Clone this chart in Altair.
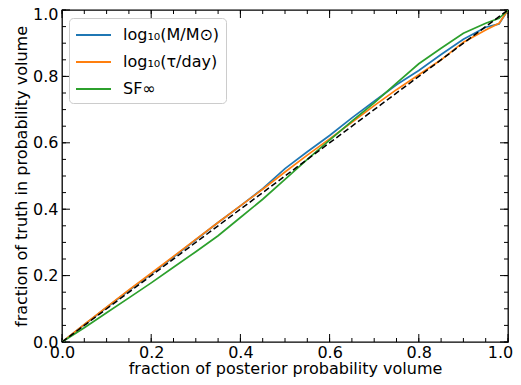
import altair as alt
import pandas as pd

# ---- data ----
series_names = ["log₁₀(M/M⊙)", "log₁₀(τ/day)", "SF∞"]
series_colors = ["#1f77b4", "#ff7f0e", "#2ca02c"]

x_grid = [0.0, 0.05, 0.1, 0.15, 0.2, 0.25, 0.3, 0.35, 0.4, 0.45, 0.5,
          0.55, 0.6, 0.65, 0.7, 0.75, 0.8, 0.85, 0.9, 0.95, 0.98, 1.0]
y_mass = [0.0, 0.052, 0.104, 0.155, 0.205, 0.256, 0.308, 0.36, 0.41, 0.462, 0.522,
          0.573, 0.622, 0.675, 0.725, 0.775, 0.818, 0.866, 0.912, 0.948, 0.958, 1.0]
y_tau = [0.0, 0.053, 0.105, 0.157, 0.207, 0.258, 0.309, 0.36, 0.41, 0.46, 0.512,
         0.563, 0.612, 0.662, 0.712, 0.76, 0.805, 0.85, 0.903, 0.94, 0.96, 1.0]
y_sf = [0.0, 0.043, 0.088, 0.133, 0.178, 0.225, 0.272, 0.32, 0.375, 0.43, 0.49,
        0.55, 0.608, 0.665, 0.72, 0.78, 0.838, 0.885, 0.93, 0.96, 0.975, 1.0]

diag_x = [0.0, 1.0]
diag_y = [0.0, 1.0]

major_ticks = [0.0, 0.2, 0.4, 0.6, 0.8, 1.0]
minor_ticks = [round(0.05 * i, 2) for i in range(21)]

W, H = 446, 332
MAJ, MIN = 8, 4
FONT = "DejaVu Sans"
FS = 16

rows = []
for name, ys in zip(series_names, [y_mass, y_tau, y_sf]):
    for xv, yv in zip(x_grid, ys):
        rows.append({"x": xv, "y": yv, "series": name})
df = pd.DataFrame(rows)
diag = pd.DataFrame({"x": diag_x, "y": diag_y})

xs = alt.Scale(domain=[0, 1], nice=False, zero=False)
ys_ = alt.Scale(domain=[0, 1], nice=False, zero=False)
common = dict(values=major_ticks, format=".1f", ticks=False, domain=False, grid=False,
              labelFontSize=FS, titleFontSize=FS, labelFont=FONT, titleFont=FONT,
              labelColor="black", titleColor="black", titleFontWeight="normal",
              labelFlush=False, labelOverlap=False)
xaxis = alt.Axis(labelPadding=2, titlePadding=0,
                 labelOffset={"condition": {"test": "datum.value == 1", "value": -8},
                              "value": 0},
                 **common)
yaxis = alt.Axis(labelPadding=4, titlePadding=3,
                 labelOffset={"condition": {"test": "datum.value == 1", "value": 4},
                              "value": 0},
                 **common)
XT = "fraction of posterior probability volume"
YT = "fraction of truth in probability volume"


def X(f):
    return alt.X(f"{f}:Q", scale=xs, axis=xaxis, title=XT)


def Y(f):
    return alt.Y(f"{f}:Q", scale=ys_, axis=yaxis, title=YT)


lines = alt.Chart(df).mark_line(strokeWidth=1.7, clip=True).encode(
    x=X("x"), y=Y("y"),
    color=alt.Color("series:N",
                    scale=alt.Scale(domain=series_names, range=series_colors),
                    sort=series_names,
                    legend=alt.Legend(title=None, orient="none", legendX=7, legendY=8,
                                      symbolType="M-1,0H2.5", symbolStrokeWidth=1.8,
                                      symbolSize=400, labelFontSize=FS, labelFont=FONT,
                                      labelColor="black", rowPadding=8,
                                      labelOffset=26, padding=6,
                                      strokeColor="#cccccc", cornerRadius=4,
                                      fillColor="white")),
)

dashed = alt.Chart(diag).mark_line(color="black", strokeWidth=1.5,
                                   strokeDash=[6, 3]).encode(x=X("x"), y=Y("y"))


def tick_df(vals):
    return pd.DataFrame({"v": vals})


maj = tick_df(major_ticks)
mnr = tick_df(minor_ticks)

tick_layers = []
for d, L in [(maj, MAJ), (mnr, MIN)]:
    tick_layers.append(alt.Chart(d).mark_rule(color="black", strokeWidth=1).encode(
        x=X("v"), y=alt.value(H), y2=alt.value(H - L)))
    tick_layers.append(alt.Chart(d).mark_rule(color="black", strokeWidth=1).encode(
        x=X("v"), y=alt.value(0), y2=alt.value(L)))
    tick_layers.append(alt.Chart(d).mark_rule(color="black", strokeWidth=1).encode(
        y=Y("v"), x=alt.value(0), x2=alt.value(L)))
    tick_layers.append(alt.Chart(d).mark_rule(color="black", strokeWidth=1).encode(
        y=Y("v"), x=alt.value(W), x2=alt.value(W - L)))

chart = alt.layer(*tick_layers, lines, dashed).properties(
    width=W, height=H,
    autosize=alt.AutoSizeParams(type="none"),
    padding={"left": 54, "top": 2, "right": 5, "bottom": 35},
).configure(font=FONT).configure_view(stroke="black", strokeWidth=1.3)

chart.save("out.html", embed_options={"renderer": "svg", "actions": False})
